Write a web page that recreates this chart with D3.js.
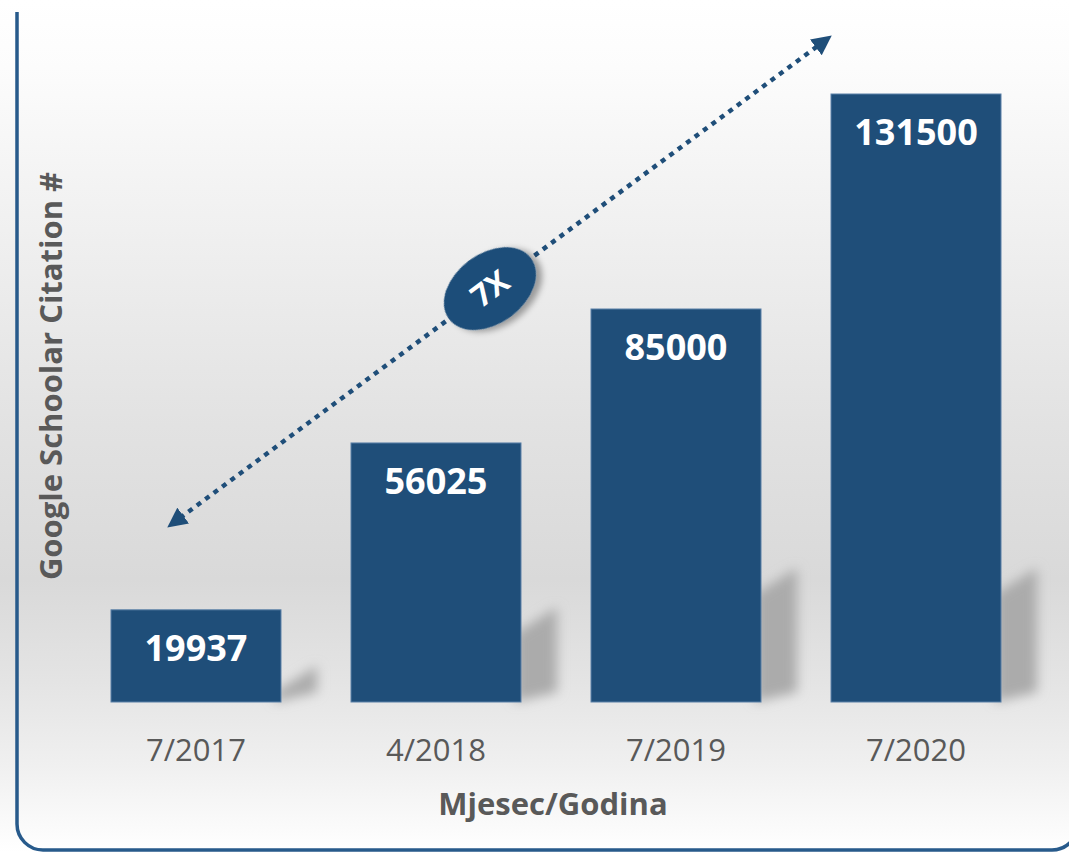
<!DOCTYPE html>
<html>
<head>
<meta charset="utf-8">
<script src="https://cdn.jsdelivr.net/npm/d3@7"></script>
<style>
  body { margin: 0; background: #fff; }
  svg { display: block; font-family: "Open Sans", sans-serif; }
</style>
</head>
<body>
<svg id="chart"></svg>
<script>
// data
const categories = ["7/2017", "4/2018", "7/2019", "7/2020"];
const citations = [19937, 56025, 85000, 131500];
const xTitle = "Mjesec/Godina";
const yTitle = "Google Schoolar Citation #";
const growthLabel = "7X";

const width = 1069, height = 852;
const baseline = 702;
const barColor = "#1f4e79";

const svg = d3.select("#chart")
    .attr("width", width)
    .attr("height", height);

const defs = svg.append("defs");

// background: white at the top, grey in the middle, white again at the bottom
const bg = defs.append("linearGradient")
    .attr("id", "bg")
    .attr("x1", 0).attr("y1", 0).attr("x2", 0).attr("y2", 1);
[[0, "#ffffff"], [0.08, "#fcfcfc"], [0.22, "#f3f3f3"], [0.5, "#e2e2e2"],
 [0.68, "#d9d9d9"], [0.8, "#e4e4e4"], [0.9, "#f0f0f0"], [1, "#ffffff"]]
    .forEach(([o, c]) => bg.append("stop").attr("offset", o).attr("stop-color", c));

defs.append("filter").attr("id", "blur")
    .attr("x", "-50%").attr("y", "-50%").attr("width", "200%").attr("height", "200%")
    .append("feGaussianBlur").attr("stdDeviation", 6);

defs.append("filter").attr("id", "drop")
    .attr("x", "-30%").attr("y", "-30%").attr("width", "160%").attr("height", "160%")
    .append("feDropShadow")
    .attr("dx", 4).attr("dy", 5).attr("stdDeviation", 3)
    .attr("flood-color", "#000").attr("flood-opacity", 0.35);

defs.append("marker")
    .attr("id", "arrow")
    .attr("viewBox", "0 0 10 10")
    .attr("refX", 2).attr("refY", 5)
    .attr("markerWidth", 4.4).attr("markerHeight", 4.4)
    .attr("markerUnits", "strokeWidth")
    .attr("orient", "auto-start-reverse")
    .append("path")
    .attr("d", "M0,0 L10,5 L0,10 Z")
    .attr("fill", barColor);

svg.append("rect")
    .attr("width", width).attr("height", height)
    .attr("fill", "url(#bg)");

// frame: only left, bottom and the start of the right side show
svg.append("path")
    .attr("d", "M17,12 V824 A26,26 0 0 0 43,850 H1052 A26,26 0 0 0 1078,824 V12")
    .attr("fill", "none")
    .attr("stroke", "#275a8b")
    .attr("stroke-width", 3.5);

const x = d3.scaleBand()
    .domain(categories)
    .range([76, 1036])
    .paddingInner(0.2917)
    .paddingOuter(0.1458);

const y = d3.scaleLinear()
    .domain([0, 131500])
    .range([baseline, 94]);

const data = categories.map((c, i) => ({ cat: c, value: citations[i] }));

// soft shadows to the right of the bars
svg.append("g")
    .selectAll("polygon")
    .data(data)
    .join("polygon")
    .attr("points", d => {
        const x1 = x(d.cat) + x.bandwidth();
        const hs = Math.min((baseline - y(d.value)) * 0.35, 130);
        return [
            [x1 - 6, baseline],
            [x1 - 6, baseline - hs + 22],
            [x1 + 36, baseline - hs - 4],
            [x1 + 36, baseline - 10]
        ].map(p => p.join(",")).join(" ");
    })
    .attr("fill", "#ababab")
    .attr("filter", "url(#blur)");

// bars
svg.append("g")
    .selectAll("rect")
    .data(data)
    .join("rect")
    .attr("x", d => x(d.cat))
    .attr("y", d => y(d.value))
    .attr("width", x.bandwidth())
    .attr("height", d => baseline - y(d.value))
    .attr("fill", barColor)
    .attr("stroke", "#5b80a8")
    .attr("stroke-width", 1);

// value labels
svg.append("g")
    .selectAll("text")
    .data(data)
    .join("text")
    .attr("x", d => x(d.cat) + x.bandwidth() / 2)
    .attr("y", d => y(d.value) + 51)
    .attr("text-anchor", "middle")
    .attr("font-size", 36)
    .attr("font-weight", "bold")
    .attr("fill", "#fff")
    .text(d => d.value);

// x axis: labels only
const xAxis = svg.append("g")
    .attr("transform", `translate(0,${baseline})`)
    .call(d3.axisBottom(x).tickSize(0).tickPadding(0));
xAxis.select(".domain").remove();
xAxis.selectAll("text")
    .attr("dy", null)
    .attr("y", 59)
    .attr("font-family", "Open Sans, sans-serif")
    .attr("font-size", 31)
    .attr("fill", "#595959");

svg.append("text")
    .attr("x", 553).attr("y", 815)
    .attr("text-anchor", "middle")
    .attr("font-size", 31)
    .attr("font-weight", "bold")
    .attr("fill", "#595959")
    .text(xTitle);

svg.append("text")
    .attr("transform", "translate(62,376) rotate(-90)")
    .attr("text-anchor", "middle")
    .attr("font-size", 31)
    .attr("font-weight", "bold")
    .attr("fill", "#595959")
    .text(yTitle);

// growth arrow, anchored on the first and last bars
const p0 = [x(categories[0]) + 69, y(39800)];
const p1 = [x(categories[3]) - 12, y(142100)];
svg.append("line")
    .attr("x1", p0[0]).attr("y1", p0[1])
    .attr("x2", p1[0]).attr("y2", p1[1])
    .attr("stroke", barColor)
    .attr("stroke-width", 4.5)
    .attr("stroke-dasharray", "5,5.5")
    .attr("marker-start", "url(#arrow)")
    .attr("marker-end", "url(#arrow)");

const angle = Math.atan2(p1[1] - p0[1], p1[0] - p0[0]) * 180 / Math.PI;
const t = 0.485;
const cx = p0[0] + (p1[0] - p0[0]) * t;
const cy = p0[1] + (p1[1] - p0[1]) * t;
const badge = svg.append("g")
    .attr("transform", `translate(${cx},${cy}) rotate(${angle})`);
badge.append("ellipse")
    .attr("rx", 51).attr("ry", 35)
    .attr("fill", barColor)
    .attr("filter", "url(#drop)");
badge.append("text")
    .attr("y", 11)
    .attr("text-anchor", "middle")
    .attr("font-size", 31)
    .attr("font-weight", "bold")
    .attr("fill", "#fff")
    .text(growthLabel);
</script>
</body>
</html>
